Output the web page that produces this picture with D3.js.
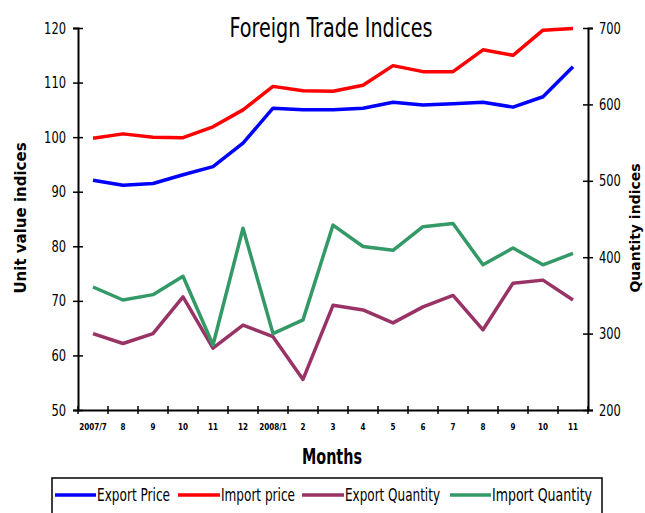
<!DOCTYPE html>
<html>
<head>
<meta charset="utf-8">
<script src="https://cdn.jsdelivr.net/npm/d3@7"></script>
<style>
  body { margin: 0; background: #fff; }
  svg { display: block; }
  .cond { font-family: "Liberation Sans Narrow", "DejaVu Sans Condensed", "Liberation Sans", sans-serif; font-stretch: condensed; }
</style>
</head>
<body>
<script>
// months on the category axis
var months = ["2007/7", "8", "9", "10", "11", "12", "2008/1", "2", "3", "4", "5", "6", "7", "8", "9", "10", "11"];

// unit value indices (left axis)
var exportPrice = [92.1, 91.2, 91.5, 93.1, 94.6, 98.9, 105.3, 105.0, 105.0, 105.3, 106.4, 105.9, 106.1, 106.4, 105.5, 107.4, 112.9];
var importPrice = [99.8, 100.6, 100.0, 99.9, 101.9, 105.0, 109.3, 108.5, 108.4, 109.5, 113.1, 112.0, 112.0, 116.0, 115.0, 119.6, 119.9];

// quantity indices (right axis)
var exportQuantity = [300, 287, 300, 348, 281, 311, 296, 240, 337, 331, 314, 335, 350, 305, 366, 370, 344];
var importQuantity = [361, 344, 351, 375, 285, 438, 300, 318, 442, 414, 409, 440, 444, 390, 412, 390, 405];

var leftTicks = [50, 60, 70, 80, 90, 100, 110, 120];
var rightTicks = [200, 300, 400, 500, 600, 700];

var width = 645;
var height = 513;

var svg = d3.select("body").append("svg")
    .attr("width", width)
    .attr("height", height);

// plot area edges
var plot = { left: 78, right: 588, top: 28, bottom: 410 };

// month labels repeat, so the band scale runs on the index
var idx = d3.range(months.length);
var x = d3.scaleBand().domain(idx).range([plot.left, plot.right]).padding(0);
var yLeft = d3.scaleLinear().domain([50, 120]).range([plot.bottom, plot.top]);
var yRight = d3.scaleLinear().domain([200, 700]).range([plot.bottom, plot.top]);
var cx = function (d, i) { return x(i) + x.bandwidth() / 2; };

// left axis
var leftAxis = svg.append("g")
    .attr("transform", "translate(" + plot.left + ",0)")
    .call(d3.axisLeft(yLeft).tickValues(leftTicks).tickSize(5).tickPadding(7));
leftAxis.selectAll(".tick line").attr("x1", 5);

// right axis
var rightAxis = svg.append("g")
    .attr("transform", "translate(" + plot.right + ",0)")
    .call(d3.axisRight(yRight).tickValues(rightTicks).tickSize(5).tickPadding(6));
rightAxis.selectAll(".tick line").attr("x1", -5);

// bottom axis: labels at category centres, ticks between categories
var bottomAxis = svg.append("g")
    .attr("transform", "translate(0," + plot.bottom + ")")
    .call(d3.axisBottom(x).tickSize(0).tickPadding(14)
        .tickFormat(function (i) { return months[i]; }));
bottomAxis.selectAll(".tick text")
    .attr("class", "cond")
    .style("font-size", "8px")
    .style("font-weight", "bold")
    .attr("fill", "#000");
var bounds = idx.map(function (i) { return x(i); }).concat([plot.right]);
bottomAxis.selectAll(".sep").data(bounds).enter().append("line")
    .attr("x1", function (d) { return d; })
    .attr("x2", function (d) { return d; })
    .attr("y1", -4).attr("y2", 4)
    .attr("stroke", "#000").attr("stroke-width", 1.5);

[leftAxis, rightAxis, bottomAxis].forEach(function (g) {
    g.select(".domain").attr("stroke", "#000").attr("stroke-width", 2);
    g.selectAll(".tick line").attr("stroke", "#000").attr("stroke-width", 1.5);
});
[leftAxis, rightAxis].forEach(function (g) {
    g.selectAll(".tick text")
        .attr("class", "cond")
        .style("font-size", "16px")
        .attr("fill", "#000")
        .attr("textLength", function (d) { return String(d).length * 7.3; })
        .attr("lengthAdjust", "spacingAndGlyphs");
});

// series
var series = [
    { name: "Export Price", values: exportPrice, y: yLeft, color: "#0000ff" },
    { name: "Import price", values: importPrice, y: yLeft, color: "#ff0000" },
    { name: "Export Quantity", values: exportQuantity, y: yRight, color: "#993366" },
    { name: "Import Quantity", values: importQuantity, y: yRight, color: "#339966" }
];

series.forEach(function (s) {
    var line = d3.line()
        .x(cx)
        .y(function (d) { return s.y(d); });
    svg.append("path")
        .datum(s.values)
        .attr("d", line)
        .attr("fill", "none")
        .attr("stroke", s.color)
        .attr("stroke-width", 3.5)
        .attr("stroke-linejoin", "round");
});

// titles
svg.append("text").attr("class", "cond")
    .attr("x", 331).attr("y", 37)
    .attr("text-anchor", "middle")
    .attr("textLength", 203).attr("lengthAdjust", "spacingAndGlyphs")
    .style("font-size", "27px")
    .text("Foreign Trade Indices");

svg.append("text").attr("class", "cond")
    .attr("x", 332).attr("y", 464)
    .attr("text-anchor", "middle")
    .attr("textLength", 60).attr("lengthAdjust", "spacingAndGlyphs")
    .style("font-size", "21px").style("font-weight", "bold")
    .text("Months");

svg.append("text")
    .attr("transform", "translate(26,218) rotate(-90)")
    .attr("text-anchor", "middle")
    .style("font-family", "'DejaVu Sans', Verdana, sans-serif")
    .style("font-size", "15px").style("font-weight", "bold")
    .text("Unit value indices");

svg.append("text")
    .attr("transform", "translate(640,228) rotate(-90)")
    .attr("text-anchor", "middle")
    .style("font-family", "'DejaVu Sans', Verdana, sans-serif")
    .style("font-size", "14px").style("font-weight", "bold")
    .text("Quantity indices");

// legend
var legend = svg.append("g");
legend.append("rect")
    .attr("x", 52).attr("y", 478)
    .attr("width", 550).attr("height", 44)
    .attr("fill", "#fff").attr("stroke", "#000").attr("stroke-width", 1.5);

var legendPos = [
    { x1: 55, x2: 96, tw: 73 },
    { x1: 178, x2: 220, tw: 74 },
    { x1: 302, x2: 344, tw: 95 },
    { x1: 450, x2: 491, tw: 100 }
];
series.forEach(function (s, i) {
    var p = legendPos[i];
    legend.append("line")
        .attr("x1", p.x1).attr("x2", p.x2)
        .attr("y1", 495).attr("y2", 495)
        .attr("stroke", s.color).attr("stroke-width", 3.5);
    legend.append("text").attr("class", "cond")
        .attr("x", p.x2 + 1).attr("y", 501)
        .attr("textLength", p.tw).attr("lengthAdjust", "spacingAndGlyphs")
        .style("font-size", "17px")
        .text(s.name);
});
</script>
</body>
</html>
